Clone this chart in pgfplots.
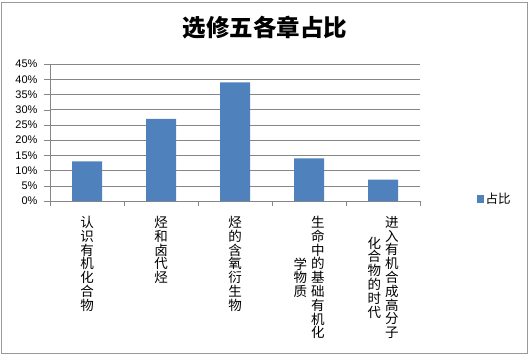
\documentclass[border=0pt]{standalone}
\usepackage{fontspec}
\setmainfont{Liberation Sans}
\newfontfamily\cjk{Noto Sans CJK SC}
\usepackage{pgfplots}
\pgfplotsset{compat=1.18}
\definecolor{barblue}{RGB}{79,129,189}
\definecolor{gridgray}{RGB}{134,134,134}
\newcommand\vc[1]{$\vcenter{\hbox{\vbox{\baselineskip=13.8pt\lineskiplimit=-100pt\lineskip=0pt\let\\\cr\halign{\hfil##\hfil\cr#1\crcr}}}}$}
\begin{document}
\begin{tikzpicture}[x=1pt,y=1pt]
\begin{axis}[
  name=ax,
  scale only axis, width=370pt, height=137pt,
  xmin=0.5, xmax=5.5, ymin=0, ymax=45,
  axis x line*=bottom, axis y line*=left,
  axis line style={gridgray, -},
  ytick={0,5,...,45},
  yticklabel={\pgfmathprintnumber{\tick}\%},
  /pgf/number format/assume math mode=true,
  yticklabel style={font=\fontsize{11}{12}\selectfont, anchor=east, xshift=-3pt},
  ymajorgrids, grid style={gridgray, line width=0.5pt},
  tick align=outside,
  major tick length=6pt,
  ytick style={gridgray},
  xtick={1,2,3,4,5},
  x tick style={draw=none},
  minor xtick={0.5,1.5,2.5,3.5,4.5,5.5},
  minor tick length=5pt,
  minor x tick style={gridgray, draw=gridgray},
  xticklabels={
    {\vc{认\\识\\有\\机\\化\\合\\物}},
    {\vc{烃\\和\\卤\\代\\烃}},
    {\vc{烃\\的\\含\\氧\\衍\\生\\物}},
    {\vc{学\\物\\质}\hspace{4pt}\vc{生\\命\\中\\的\\基\\础\\有\\机\\化}},
    {\vc{化\\合\\物\\的\\时\\代}\hspace{4pt}\vc{进\\入\\有\\机\\合\\成\\高\\分\\子}}
  },
  xticklabel style={font=\cjk\fontsize{13.5}{13.8}\selectfont, anchor=north, inner sep=0pt, yshift=-9pt},
  legend style={draw=none, at={(1.15,0.015)}, anchor=west, font=\cjk\fontsize{12.5}{14}\selectfont, inner sep=1pt},
  legend image code/.code={\fill[barblue] (0pt,-4pt) rectangle (7pt,4pt);},
  clip=false,
]
\coordinate (O) at (rel axis cs:0,0);
\addplot[ybar, bar width=30pt, fill=barblue, draw=none] coordinates {(1,13) (2,27) (3,39) (4,14) (5,7)};
\addlegendentry{占比}
\end{axis}
\begin{scope}[shift={(O)}]
\draw[gray!80, line width=0.8pt] (-48.5,-152.5) rectangle (477,198.5);
\node[font=\cjk\bfseries\fontsize{23.5}{26}\selectfont] at (215,173) {选修五各章占比};
\end{scope}
\pgfresetboundingbox
\path[use as bounding box, shift={(O)}] (-50,-155) rectangle (479,201);
\end{tikzpicture}
\end{document}
